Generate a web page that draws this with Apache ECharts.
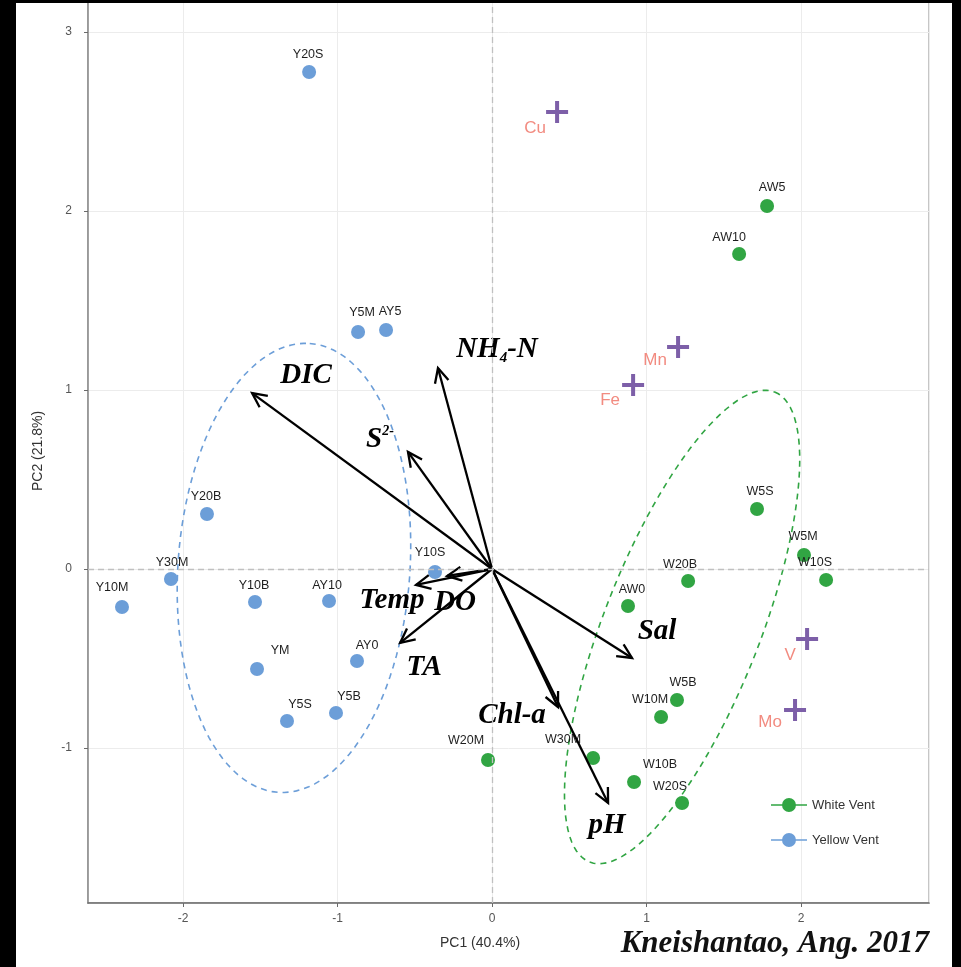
<!DOCTYPE html>
<html>
<head>
<meta charset="utf-8">
<script src="https://cdn.jsdelivr.net/npm/echarts@6/dist/echarts.min.js"></script>
<style>
html,body{margin:0;padding:0;background:#000;}
#chart{width:961px;height:967px;}
</style>
</head>
<body>
<div id="chart"></div>
<script>
// PCA biplot, Kneishantao vents (Aug. 2017)

// White-vent sample scores (PC1, PC2)
const whiteNames = ['AW5','AW10','W5S','W5M','W10S','W20B','AW0','W5B','W10M','W20M','W30M','W10B','W20S'];
const whiteX = [1.780, 1.599, 1.715, 2.019, 2.162, 1.269, 0.880, 1.197, 1.094, -0.026, 0.654, 0.919, 1.230];
const whiteY = [2.028, 1.760, 0.335, 0.078, -0.061, -0.067, -0.207, -0.732, -0.827, -1.067, -1.056, -1.190, -1.307];

// Yellow-vent sample scores (PC1, PC2)
const yellowNames = ['Y20S','Y5M','AY5','Y20B','Y30M','Y10M','Y10B','AY10','Y10S','YM','AY0','Y5S','Y5B'];
const yellowX = [-1.184, -0.867, -0.686, -1.845, -2.078, -2.395, -1.534, -1.055, -0.369, -1.521, -0.874, -1.327, -1.010];
const yellowY = [2.777, 1.324, 1.335, 0.307, -0.056, -0.212, -0.184, -0.179, -0.017, -0.559, -0.514, -0.849, -0.804];

// Trace metals projected onto the plane
const metalNames = ['Cu','Mn','Fe','V','Mo'];
const metalX = [0.421, 1.204, 0.913, 2.039, 1.961];
const metalY = [2.553, 1.240, 1.028, -0.391, -0.788];

// Environmental variable loadings (arrow tips)
const arrowNames = ['DIC','NH4-N','S2-','Temp','DO','TA','Sal','Chl-a','pH'];
const arrowX = [-1.553, -0.350, -0.544, -0.492, -0.291, -0.595, 0.906, 0.427, 0.751];
const arrowY = [0.983, 1.123, 0.654, -0.089, -0.039, -0.413, -0.497, -0.771, -1.307];

// Group ellipses: centre and the two semi-axis vectors, in PC units
const ellipseGroups = ['Yellow Vent','White Vent'];
const ellipseCenter = [[-1.282, 0.006], [1.230, -0.324]];
const ellipseAxisA = [[0.102, 1.254], [0.599, 1.313]];
const ellipseAxisB = [[0.749, -0.045], [0.470, -0.159]];

// Axis ranges and titles
const xRange = [-2.615, 2.828];
const yRange = [-1.866, 3.179];
const xTitle = 'PC1 (40.4%)';
const yTitle = 'PC2 (21.8%)';
const caption = 'Kneishantao, Ang. 2017';

// ---- label placement (pixel nudges, kept apart from the values) ----
const whiteLabelNudge = [[5,-18],[-10,-16],[3,-17],[-1,-18],[-11,-17],[-8,-16],[4,-17],[6,-17],[-11,-17],[-22,-19],[-30,-18],[26,-17],[-12,-16]];
const yellowLabelNudge = [[-1,-17],[4,-19],[4,-19],[-1,-18],[1,-16],[-10,-19],[-1,-16],[-2,-15],[-5,-20],[23,-19],[10,-15],[13,-16],[13,-16]];
const metalLabelNudge = [[-22,16],[-23,13],[-23,15],[-17,16],[-25,12]];
const arrowLabelNudge = [[54,-18],[59,-18],[-28,-12],[-24,16],[8,27],[24,25],[25,-26],[-46,9],[-1,23]];
const arrowLabelRich = ['{b|DIC}','{b|NH}{s|4}{b|-N}','{b|S}{p|2-}','{b|Temp}','{b|DO}','{b|TA}','{b|Sal}','{b|Chl-a}','{b|pH}'];

const GREEN = '#31a543';
const BLUE = '#6c9ed8';
const PURPLE = '#7d5fa8';
const SALMON = '#f28b80';
const SERIF = '"Liberation Serif","DejaVu Serif",serif';
const SANS = '"Liberation Sans",Arial,sans-serif';

const legendIcon = 'path://M0,6.2 H36 V7.8 H0 Z M18,0 A7,7 0 1,1 17.99,0 Z';
const plusIcon = 'path://M9,0 H13 V9 H22 V13 H13 V22 H9 V13 H0 V9 H9 Z';

function sampleData(names, xs, ys, nudges) {
  return names.map((n, i) => ({
    name: n,
    value: [xs[i], ys[i]],
    label: { offset: nudges[i] }
  }));
}

const chart = echarts.init(document.getElementById('chart'), null, { renderer: 'canvas' });

const option = {
  backgroundColor: '#ffffff',
  animation: false,
  grid: {
    left: 88, right: 32, top: 0, bottom: 64,
    show: true, borderColor: '#b4b4b4', borderWidth: 1.5, backgroundColor: 'transparent'
  },
  xAxis: {
    type: 'value', min: xRange[0], max: xRange[1], splitNumber: 5,
    axisLine: { show: true, onZero: false, lineStyle: { color: '#6a6a6a', width: 1.5 } },
    axisTick: { show: true, length: 4, lineStyle: { color: '#6a6a6a' } },
    axisLabel: { showMinLabel: false, showMaxLabel: false, color: '#555', fontSize: 12, fontFamily: SANS, margin: 10 },
    splitLine: { show: true, lineStyle: { color: '#ececec', width: 1 } }
  },
  yAxis: {
    type: 'value', min: yRange[0], max: yRange[1], splitNumber: 5,
    axisLine: { show: true, onZero: false, lineStyle: { color: '#8a8a8a', width: 1.5 } },
    axisTick: { show: true, length: 4, lineStyle: { color: '#6a6a6a' } },
    axisLabel: { showMinLabel: false, showMaxLabel: false, color: '#555', fontSize: 12, fontFamily: SANS, margin: 16 },
    splitLine: { show: true, lineStyle: { color: '#ececec', width: 1 } }
  },
  legend: {
    data: [
      { name: 'White Vent', icon: legendIcon },
      { name: 'Yellow Vent', icon: legendIcon }
    ],
    orient: 'vertical', left: 766, top: 793,
    itemWidth: 36, itemHeight: 14, itemGap: 21,
    selectedMode: false,
    textStyle: { color: '#333', fontSize: 13, fontFamily: SANS }
  },
  series: [
    {
      // dashed group ellipses
      type: 'custom', name: 'ellipses', z: 1, silent: true,
      data: ellipseGroups.map((g, i) => [ellipseCenter[i][0], ellipseCenter[i][1], i]),
      encode: { x: 0, y: 1 },
      clip: false,
      renderItem: function (params, api) {
        const i = api.value(2);
        const c = ellipseCenter[i], a = ellipseAxisA[i], b = ellipseAxisB[i];
        const pts = [];
        for (let k = 0; k <= 120; k++) {
          const t = (k / 120) * Math.PI * 2;
          pts.push(api.coord([c[0] + Math.cos(t) * a[0] + Math.sin(t) * b[0],
                              c[1] + Math.cos(t) * a[1] + Math.sin(t) * b[1]]));
        }
        return {
          type: 'polyline', shape: { points: pts },
          style: { stroke: i === 0 ? BLUE : GREEN, lineWidth: 1.6, fill: null, lineDash: [6, 5] }
        };
      },
      markLine: {
        silent: true, symbol: 'none', animation: false,
        label: { show: false },
        lineStyle: { color: '#c0c0c0', type: [6, 4], width: 1.3 },
        data: [{ xAxis: 0 }, { yAxis: 0 }]
      }
    },
    {
      name: 'White Vent', type: 'scatter', z: 3,
      symbol: 'circle', symbolSize: 14,
      itemStyle: { color: GREEN, opacity: 1 },
      label: { show: true, position: 'inside', formatter: '{b}', color: '#1e1e1e', fontSize: 12.5, fontFamily: SANS },
      data: sampleData(whiteNames, whiteX, whiteY, whiteLabelNudge)
    },
    {
      name: 'Yellow Vent', type: 'scatter', z: 3,
      symbol: 'circle', symbolSize: 14,
      itemStyle: { color: BLUE, opacity: 1 },
      label: { show: true, position: 'inside', formatter: '{b}', color: '#1e1e1e', fontSize: 12.5, fontFamily: SANS },
      data: sampleData(yellowNames, yellowX, yellowY, yellowLabelNudge)
    },
    {
      name: 'metals', type: 'scatter', z: 5,
      symbol: plusIcon, symbolSize: 22,
      itemStyle: { color: PURPLE, opacity: 1 },
      label: { show: true, position: 'inside', formatter: '{b}', color: SALMON, fontSize: 17, fontFamily: SANS },
      data: sampleData(metalNames, metalX, metalY, metalLabelNudge)
    },
    {
      // loading arrows from the origin
      type: 'custom', name: 'loadings', z: 4, silent: true,
      data: arrowNames.map((n, i) => [arrowX[i], arrowY[i], i]),
      encode: { x: 0, y: 1 },
      clip: false,
      renderItem: function (params, api) {
        const i = api.value(2);
        const o = api.coord([0, 0]);
        const tip = api.coord([api.value(0), api.value(1)]);
        const ang = Math.atan2(tip[1] - o[1], tip[0] - o[0]);
        const L = 16, w = Math.PI / 7;
        const h1 = [tip[0] - L * Math.cos(ang - w), tip[1] - L * Math.sin(ang - w)];
        const h2 = [tip[0] - L * Math.cos(ang + w), tip[1] - L * Math.sin(ang + w)];
        const nudge = arrowLabelNudge[i];
        return {
          type: 'group',
          children: [
            { type: 'line', shape: { x1: o[0], y1: o[1], x2: tip[0], y2: tip[1] },
              style: { stroke: '#000', lineWidth: 2.3 } },
            { type: 'polyline', shape: { points: [h1, tip, h2] },
              style: { stroke: '#000', lineWidth: 2.3, fill: null } },
            { type: 'text', x: tip[0] + nudge[0], y: tip[1] + nudge[1],
              style: {
                text: arrowLabelRich[i], align: 'center', verticalAlign: 'middle',
                rich: {
                  b: { fontFamily: SERIF, fontWeight: 'bold', fontStyle: 'italic', fontSize: 29, fill: '#000', lineHeight: 32, verticalAlign: 'middle' },
                  s: { fontFamily: SERIF, fontWeight: 'bold', fontStyle: 'italic', fontSize: 15, fill: '#000', lineHeight: 16, verticalAlign: 'bottom' },
                  p: { fontFamily: SERIF, fontWeight: 'bold', fontStyle: 'italic', fontSize: 14, fill: '#000', lineHeight: 14, verticalAlign: 'top' }
                }
              } }
          ]
        };
      }
    }
  ],
  graphic: [
    { type: 'text', left: 440, top: 936, z: 10,
      style: { text: xTitle, fill: '#333', fontSize: 14, fontFamily: SANS } },
    { type: 'text', x: 38, y: 451, rotation: Math.PI / 2, z: 10,
      style: { text: yTitle, fill: '#333', fontSize: 14, fontFamily: SANS, align: 'center', verticalAlign: 'middle' } },
    { type: 'text', right: 32, top: 928, z: 10,
      style: { text: caption, fill: '#111', fontSize: 31, fontWeight: 'bold', fontStyle: 'italic', fontFamily: SERIF } },
    // dark frame around the figure
    { type: 'rect', left: 0, top: 0, z: 20, shape: { width: 16, height: 967 }, style: { fill: '#000' } },
    { type: 'rect', left: 0, top: 0, z: 20, shape: { width: 961, height: 3 }, style: { fill: '#000' } },
    { type: 'rect', left: 952, top: 0, z: 20, shape: { width: 9, height: 967 }, style: { fill: '#000' } }
  ]
};

chart.setOption(option);
</script>
</body>
</html>
